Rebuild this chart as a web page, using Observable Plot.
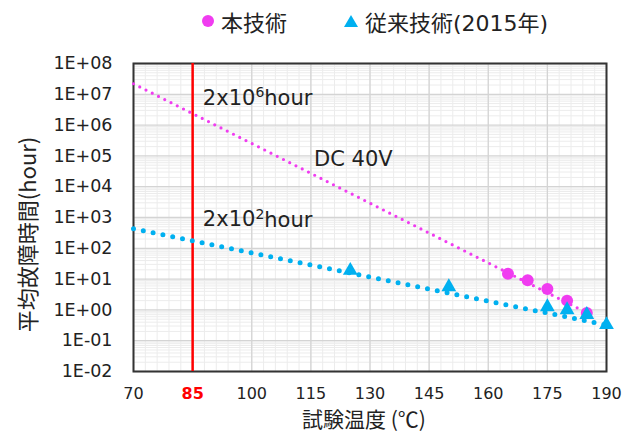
<!DOCTYPE html>
<html>
<head>
<meta charset="utf-8">
<script src="https://cdn.jsdelivr.net/npm/d3@7"></script>
<script src="https://cdn.jsdelivr.net/npm/@observablehq/plot@0.6"></script>
<style>
  html, body { margin: 0; padding: 0; background: #fff; }
  #wrap { width: 632px; height: 438px; position: relative; overflow: hidden; }
  #legend { position: relative; height: 44px; font-family: "DejaVu Sans", "Noto Sans CJK JP", sans-serif; font-size: 21px; color: #222; }
  #legend .item { position: absolute; top: 5px; display: flex; align-items: center; white-space: nowrap; }
  #legend .cjk { font-family: "Noto Sans CJK JP", sans-serif; }
  #legend svg { margin-right: 6px; }
</style>
</head>
<body>
<div id="wrap">
  <div id="legend"></div>
  <div id="chart"></div>
</div>
<script>
// ---- data ----
const seriesNames = ["本技術", "従来技術(2015年)"];
const newTemp = [165, 170, 175, 180, 185];
const newHours = [15, 9.2, 4.8, 2.0, 0.8];
const oldTemp = [125, 150, 175, 180, 185, 190];
const oldHours = [19, 5.6, 1.25, 1.0, 0.7, 0.33];
// fitted trend lines (end points)
const trendNewTemp = [70, 186];
const trendNewHours = [2.2e7, 0.7];
const trendOldTemp = [70, 190];
const trendOldHours = [430, 0.32];
const refTemp = [85];
const annoText = ["2x10⁶hour", "DC 40V", "2x10²hour"];
const annoTemp = [87.6, 115.8, 87.6];
const annoHours = [7.5e6, 8e4, 850];
const xTicks = [70, 85, 100, 115, 130, 145, 160, 175, 190];
const yTicks = [1e-2, 1e-1, 1e0, 1e1, 1e2, 1e3, 1e4, 1e5, 1e6, 1e7, 1e8];
const yTickLabels = ["1E-02", "1E-01", "1E+00", "1E+01", "1E+02", "1E+03", "1E+04", "1E+05", "1E+06", "1E+07", "1E+08"];
const xTitle = "試験温度 (℃)";
const yTitle = "平均故障時間(hour)";

const MAGENTA = "#f03cf0";
const BLUE = "#00b0f0";

const newPts = newTemp.map((t, i) => ({t, h: newHours[i]}));
const oldPts = oldTemp.map((t, i) => ({t, h: oldHours[i]}));
const trendNew = trendNewTemp.map((t, i) => ({t, h: trendNewHours[i]}));
const trendOld = trendOldTemp.map((t, i) => ({t, h: trendOldHours[i]}));
const annos = annoText.map((s, i) => ({s, t: annoTemp[i], h: annoHours[i]}));

// grid helpers
const xMinor = d3.range(70, 190.1, 3);
const yMinor = [];
for (let e = -2; e < 8; e++) for (let k = 2; k <= 9; k++) yMinor.push(k * Math.pow(10, e));

// legend
const legend = document.getElementById("legend");
legend.innerHTML = `
  <div class="item" style="left:201px"><svg width="14" height="14"><circle cx="7" cy="7" r="6" fill="${MAGENTA}"/></svg><span class="cjk" style="font-size:22px">${seriesNames[0]}</span></div>
  <div class="item" style="left:343px"><svg width="16" height="14"><path d="M8,1 L15,13 L1,13 Z" fill="${BLUE}"/></svg><span style="font-size:22px">${seriesNames[1]}</span></div>`;

const chart = Plot.plot({
  width: 632,
  height: 394,
  marginTop: 19,
  marginBottom: 67,
  marginLeft: 133,
  marginRight: 26,
  style: {fontFamily: "DejaVu Sans, sans-serif", fontSize: "17px", color: "#222", background: "#fff"},
  x: {domain: [70, 190]},
  y: {type: "log", domain: [1e-2, 1e8]},
  marks: [
    Plot.ruleX(xMinor, {stroke: "#ececec", strokeWidth: 1}),
    Plot.ruleY(yMinor, {stroke: "#ececec", strokeWidth: 1}),
    Plot.ruleX(xTicks, {stroke: "#d4d4d4", strokeWidth: 1.3}),
    Plot.ruleY(yTicks, {stroke: "#d4d4d4", strokeWidth: 1.3}),
    Plot.frame({stroke: "#333", strokeWidth: 2}),
    Plot.ruleX(refTemp, {stroke: "#f00", strokeWidth: 2.5}),
    Plot.line(trendNew, {x: "t", y: "h", stroke: MAGENTA, strokeWidth: 3.2, strokeDasharray: "0 7", strokeLinecap: "round"}),
    Plot.line(trendOld, {x: "t", y: "h", stroke: BLUE, strokeWidth: 5, strokeDasharray: "0 10", strokeLinecap: "round"}),
    Plot.dot(newPts, {x: "t", y: "h", r: 6, fill: MAGENTA, symbol: "circle"}),
    Plot.dot(oldPts, {x: "t", y: "h", r: 5.5, fill: BLUE, symbol: "triangle"}),
    Plot.text(annos, {x: "t", y: "h", text: "s", textAnchor: "start", fontSize: 21, fill: "#222"}),
    Plot.axisX(xTicks, {tickSize: 0, tickPadding: 16, tickFormat: d => String(d), fontSize: 16}),
    Plot.axisY(yTicks, {tickSize: 0, tickPadding: 21, tickFormat: d => yTickLabels[yTicks.indexOf(d)], fontSize: 17.5, label: null}),
    Plot.text([xTitle], {frameAnchor: "bottom", lineAnchor: "middle", dy: 49, dx: -6, fontSize: 21, fontFamily: "Noto Sans CJK JP, DejaVu Sans", fill: "#222"}),
    Plot.text([yTitle], {frameAnchor: "left", textAnchor: "middle", lineAnchor: "middle", dx: -105, dy: 17, rotate: -90, fontSize: 22, fontFamily: "Noto Sans CJK JP, DejaVu Sans", fill: "#222"})
  ]
});
document.getElementById("chart").appendChild(chart);
// highlight 85 tick label
d3.select(chart).selectAll("text").filter(function() { return this.textContent === "85"; })
  .attr("fill", "#f00").style("font-weight", "bold");
d3.select(chart).selectAll("g[aria-label='x-axis label'], g[aria-label='y-axis label']").remove();
// render superscripts larger, as in the reference
d3.select(chart).selectAll("text").each(function() {
  const s = this.textContent;
  const m = s.match(/^(.*)([⁰¹²³⁴⁵⁶⁷⁸⁹])(.*)$/);
  if (!m) return;
  const sup = {"⁰":"0","¹":"1","²":"2","³":"3","⁴":"4","⁵":"5","⁶":"6","⁷":"7","⁸":"8","⁹":"9"}[m[2]];
  const el = d3.select(this);
  el.text(null);
  el.append("tspan").text(m[1]);
  el.append("tspan").attr("font-size", 14).attr("dy", "-0.55em").text(sup);
  el.append("tspan").attr("dy", "0.38em").text(m[3]);
});
</script>
</body>
</html>
